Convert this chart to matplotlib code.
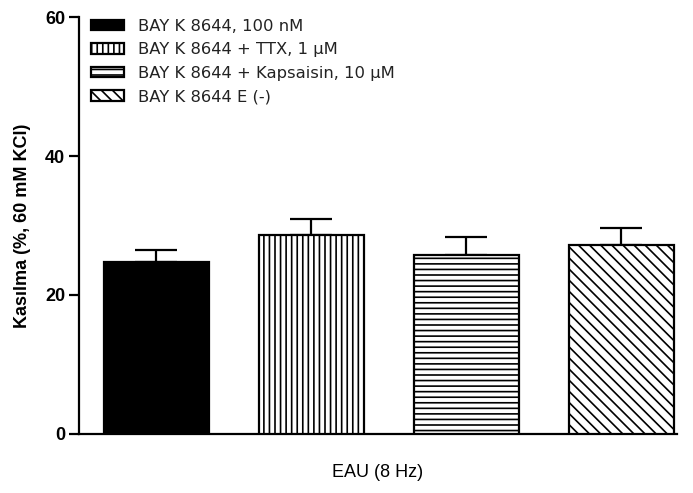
import numpy as np
import matplotlib.pyplot as plt
from matplotlib.patches import Patch

plt.rcParams['font.family'] = ['Liberation Sans', 'DejaVu Sans']
plt.rcParams['hatch.linewidth'] = 1.2

# data
groups = ['BAY K 8644, 100 nM',
          'BAY K 8644 + TTX, 1 µM',
          'BAY K 8644 + Kapsaisin, 10 µM',
          'BAY K 8644 E (-)']
means = [24.7, 28.7, 25.8, 27.2]
sem = [1.8, 2.2, 2.6, 2.4]
fills = ['black', 'white', 'white', 'white']
hatches = [None, '|||', '---', '\\\\\\']

fig = plt.figure(figsize=(6.93, 4.93), dpi=100)
ax = fig.add_axes([0.114, 0.12, 0.863, 0.845])

x = np.arange(len(means))
lower = np.zeros(len(means))
ax.bar(x, means, width=0.68, color=fills, edgecolor='black', linewidth=1.6,
       hatch=hatches, zorder=3)
ax.errorbar(x, means, yerr=[lower, sem], fmt='none', ecolor='black',
            elinewidth=1.6, capsize=15, capthick=1.6, zorder=2)

ax.set_xlim(-0.5, 3.36)
ax.set_ylim(0, 60)
ax.set_yticks([0, 20, 40, 60])
ax.set_xticks([])
for side in ['top', 'right']:
    ax.spines[side].set_visible(False)
ax.spines['left'].set_linewidth(1.6)
ax.spines['bottom'].set_linewidth(1.6)
ax.tick_params(axis='y', width=1.6, length=7, labelsize=13, pad=3)
for lab in ax.get_yticklabels():
    lab.set_fontweight('bold')

ax.set_ylabel('Kasılma (%, 60 mM KCl)', fontsize=13, fontweight='bold', labelpad=10)
ax.set_xlabel('EAU (8 Hz)', fontsize=13, labelpad=22)

# legend swatches: small filled rectangles with a heavy outline
handles = [Patch(facecolor=f, edgecolor='black', hatch=h, linewidth=1.6)
           for f, h in zip(fills, hatches)]
leg = ax.legend(handles, groups, loc='upper left', bbox_to_anchor=(-0.005, 1.032),
                frameon=False, prop={'family': 'DejaVu Sans', 'size': 11.8},
                handlelength=2.05, handleheight=0.6,
                labelspacing=0.52, handletextpad=0.85)
for t in leg.get_texts():
    t.set_color('#222222')

fig.savefig('out.png', dpi=100)
